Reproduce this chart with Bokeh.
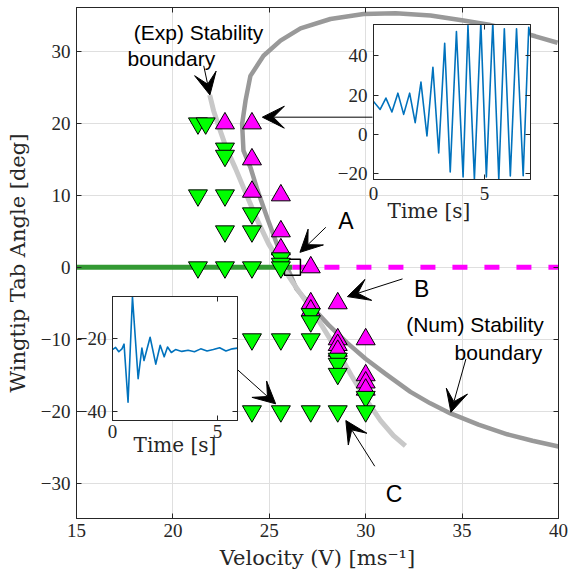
from bokeh.plotting import figure
from bokeh.models import Range1d, LinearAxis, FixedTicker, Arrow, VeeHead, Label, CustomJSTickFormatter
from bokeh.layouts import column
from bokeh.embed import file_html
from bokeh.resources import INLINE

# ---------------- data ----------------
x_ticks = [15, 20, 25, 30, 35, 40]
y_ticks = [-30, -20, -10, 0, 10, 20, 30]

stable_v = [21.3, 21.7, 22.7, 22.7, 21.3, 22.7, 24.1, 22.7, 24.1, 21.3, 22.7, 24.1, 25.6, 25.6, 25.6,
            27.15, 27.15, 24.1, 25.6, 27.15, 28.55, 28.55, 28.55, 30.0, 24.1, 25.6, 27.15, 28.55, 30.0]
stable_a = [20, 20, 16.5, 15.5, 10, 10, 7.5, 5, 5, 0, 0, 0, 1.25, 0.5, 0,
            -6.5, -7.5, -10, -10, -10, -12.7, -13.4, -14.8, -18, -20, -20, -20, -20, -20]

unstable_v = [22.7, 24.1, 24.1, 24.1, 25.6, 25.6, 25.6, 27.15, 27.15, 27.15, 28.55, 28.55, 28.55,
              28.55, 30.0, 30.0, 30.0, 30.0]
unstable_a = [20, 20, 15, 10.5, 10, 5, 2.5, 0, -5, -6, -5, -10, -10.8, -11.6, -10, -15, -16, -17]

point_a_v = [26.2]
point_a_a = [0.0]

stable_line_v = [15.0, 26.2]
stable_line_a = [0.0, 0.0]
unstable_line_v = [26.2, 40.0]
unstable_line_a = [0.0, 0.0]

exp_v = [21.91, 22.11, 22.42, 22.78, 23.25, 23.77, 24.34, 24.96, 25.58, 26.26, 26.98, 27.76,
         28.52, 29.26, 29.99, 30.77, 31.44, 32.06]
exp_a = [23.94, 21.76, 19.26, 16.49, 13.71, 10.38, 6.76, 3.29, 0.51, -2.26, -5.04, -8.24,
         -11.57, -15.04, -18.24, -21.29, -23.38, -24.8]

num_v = [39.95, 38.8, 37.67, 36.4, 35.07, 33.36, 31.55, 29.89, 28.17, 26.62, 25.58, 24.70,
         24.02, 23.77, 23.59, 23.66, 24.02, 24.39, 24.89, 25.37, 25.93, 26.41, 27.14, 28.07,
         29.04, 29.99, 31.03, 32.32, 33.35, 34.40, 35.85, 37.34, 38.65, 40.0]
num_a = [31.2, 32.1, 32.9, 33.7, 34.3, 35.0, 35.3, 35.2, 34.5, 33.2, 31.5, 29.4,
         26.6, 23.2, 19.9, 16.2, 13.9, 10.7, 6.9, 3.4, 0.0, -3.0, -5.3, -8.0,
         -10.5, -12.7, -14.8, -17.3, -18.9, -20.3, -21.85, -23.2, -24.1, -24.9]

# inset 1: unstable time history
t1 = [0.0, 0.3, 0.56, 0.83, 1.1, 1.36, 1.63, 1.88, 2.14, 2.41, 2.68, 2.94, 3.21, 3.46, 3.74,
      4.04, 4.26, 4.55, 4.84, 5.09, 5.38, 5.65, 5.9, 6.17, 6.45, 6.75, 7.0, 7.08]
v1 = [16.9, 12.8, 18.6, 11.5, 21.1, 10.3, 21.1, 6.1, 26.7, -0.7, 34.3, -9.3, 46.5, -19.0, 52.4,
      -21.5, 55.5, -22.7, 57.0, -21.5, 57.0, -22.7, 53.8, -21.0, 53.8, -20.9, 54.6, 50.0]
inset1_x_ticks = [0, 5]
inset1_y_ticks = [-20, 0, 20, 40]

# inset 2: stable time history
t2 = [0.0, 0.15, 0.3, 0.45, 0.55, 0.74, 0.95, 1.22, 1.4, 1.5, 1.79, 2.06, 2.27, 2.46, 2.62,
      2.8, 3.0, 3.3, 3.6, 3.9, 4.2, 4.5, 4.8, 5.1, 5.4, 5.7, 5.95]
v2 = [-23.0, -22.4, -23.6, -22.8, -21.5, -37.5, -8.5, -31.0, -22.6, -26.0, -19.6, -27.0, -21.8,
      -25.0, -22.3, -23.8, -23.0, -23.5, -23.2, -23.6, -22.8, -23.4, -23.0, -22.5, -23.4, -22.8, -22.6]
inset2_x_ticks = [0, 5]
inset2_y_ticks = [-40, -20]

# annotation arrows (start -> end), data coordinates
arrow_x0 = [21.6, 30.35, 27.93, 31.91, 30.47, 23.17, 35.2]
arrow_y0 = [28.0, 20.86, 5.56, -1.61, -27.64, -13.79, -12.72]
arrow_x1 = [21.92, 24.64, 26.59, 29.05, 28.97, 25.33, 34.42]
arrow_y1 = [23.95, 20.86, 2.08, -4.07, -21.29, -18.97, -20.14]

notes = [("(Exp) Stability", 21.33, 32.64, 21),
         ("boundary", 19.92, 29.08, 21),
         ("A", 28.97, 6.49, 23),
         ("B", 32.9, -3.0, 23),
         ("C", 31.47, -31.5, 23),
         ("(Num) Stability", 35.67, -8.0, 21),
         ("boundary", 36.88, -11.8, 21)]

# ---------------- style ----------------
SERIF = "Liberation Serif"
LSERIF = "DejaVu Serif"
SANS = "Liberation Sans"
FRAME = "#262626"
GRID = "#dfdfdf"
BLUE = "#0072BD"


def box_axes(fig, xt, yt, xstand, ystand, grid=True):
    xa = fig.below[0]
    ya = fig.left[0]
    fig.outline_line_color = FRAME
    fig.outline_line_width = 1
    for ax in (xa, ya):
        ax.minor_tick_line_color = None
        ax.major_tick_in = 5
        ax.major_tick_out = 0
        ax.axis_line_color = FRAME
        ax.major_tick_line_color = FRAME
        ax.major_label_text_font = SERIF
        ax.major_label_text_font_size = "19px"
        ax.major_label_text_color = FRAME
    xa.ticker = FixedTicker(ticks=xt)
    ya.ticker = FixedTicker(ticks=yt)
    xa.major_label_standoff = xstand
    ya.major_label_standoff = ystand
    if grid:
        fig.xgrid.ticker = FixedTicker(ticks=xt)
        fig.ygrid.ticker = FixedTicker(ticks=yt)
        fig.grid.grid_line_color = GRID
        fig.grid.grid_line_width = 1
    else:
        fig.grid.visible = False
    for loc, tk in (("right", yt), ("above", xt)):
        ax = LinearAxis(ticker=FixedTicker(ticks=tk),
                        formatter=CustomJSTickFormatter(code="return ''"),
                        major_label_text_font_size="0px", major_label_standoff=0,
                        major_tick_in=5, major_tick_out=0, minor_tick_line_color=None,
                        axis_line_color=FRAME, major_tick_line_color=FRAME)
        fig.add_layout(ax, loc)
    return xa, ya


# ---------------- main figure ----------------
p = figure(width=571, height=575, x_range=Range1d(15, 40), y_range=Range1d(-34.9, 36.1),
           output_backend="svg", toolbar_location=None,
           min_border_left=76, min_border_right=13, min_border_top=7, min_border_bottom=57)
pxa, pya = box_axes(p, x_ticks, y_ticks, 5, 6)
pxa.axis_label = "Velocity (V) [ms\u207b\u00b9]"
pya.axis_label = "Wingtip Tab Angle [deg]"
for ax in (pxa, pya):
    ax.axis_label_text_font = LSERIF
    ax.axis_label_text_font_size = "21px"
    ax.axis_label_text_font_style = "normal"
    ax.axis_label_text_color = FRAME
pxa.axis_label_standoff = 6
pya.axis_label_standoff = 8

p.line(num_v, num_a, line_color="#999999", line_width=4.5, line_join="round")
p.line(exp_v, exp_a, line_color="#c8c8c8", line_width=5, line_join="round")
p.line(stable_line_v, stable_line_a, line_color="#339933", line_width=5)
p.line(unstable_line_v, unstable_line_a, line_color="#ff00ff", line_width=5, line_dash="15 17")
p.scatter(point_a_v, point_a_a, marker="square", size=16, fill_color=None,
          line_color="black", line_width=1.5)
p.scatter(unstable_v, unstable_a, marker="triangle", size=19, fill_color="#ff00ff",
          line_color="black", line_width=1)
p.scatter(stable_v, stable_a, marker="inverted_triangle", size=19, fill_color="#00ff00",
          line_color="black", line_width=1)

for xs, ys, xe, ye in zip(arrow_x0, arrow_y0, arrow_x1, arrow_y1):
    p.add_layout(Arrow(x_start=xs, y_start=ys, x_end=xe, y_end=ye, line_color="black",
                       line_width=1, end=VeeHead(size=22, fill_color="black", line_color="black")))

for txt, x, y, fs in notes:
    p.add_layout(Label(x=x, y=y, text=txt, text_font=SANS, text_font_size=f"{fs}px",
                       text_align="center", text_baseline="alphabetic", text_color="black"))

p.add_layout(Label(x=33.28, y=7.85, text="Time [s]", text_font=LSERIF, text_font_size="20px",
                   text_align="center", text_baseline="alphabetic", text_color=FRAME))

# ---------------- inset 1 ----------------
q1 = figure(width=246, height=199, x_range=Range1d(0, 7.08), y_range=Range1d(-22.8, 56),
            output_backend="svg", toolbar_location=None,
            min_border_left=76, min_border_right=13, min_border_top=4, min_border_bottom=40,
            border_fill_color=None, background_fill_color="white")
box_axes(q1, inset1_x_ticks, inset1_y_ticks, 7, 6, grid=False)
q1.line(t1, v1, line_color=BLUE, line_width=1.6, line_join="round")
q1.margin = (-555, 0, 0, 297)

# ---------------- inset 2 ----------------
q2 = figure(width=214, height=173, x_range=Range1d(0, 5.95), y_range=Range1d(-42.5, -8.4),
            output_backend="svg", toolbar_location=None,
            min_border_left=76, min_border_right=13, min_border_top=4, min_border_bottom=45,
            border_fill_color=None, background_fill_color="white")
q2xa, q2ya = box_axes(q2, inset2_x_ticks, inset2_y_ticks, 4, 6, grid=False)
q2xa.axis_label = "Time [s]"
q2xa.axis_label_text_font = LSERIF
q2xa.axis_label_text_font_size = "20px"
q2xa.axis_label_text_font_style = "normal"
q2xa.axis_label_text_color = FRAME
q2xa.axis_label_standoff = -8
q2.line(t2, v2, line_color=BLUE, line_width=1.6, line_join="round")
q2.margin = (73, 0, 0, 36)

layout = column(p, q1, q2)
open("out.html", "w").write(file_html(layout, INLINE))
